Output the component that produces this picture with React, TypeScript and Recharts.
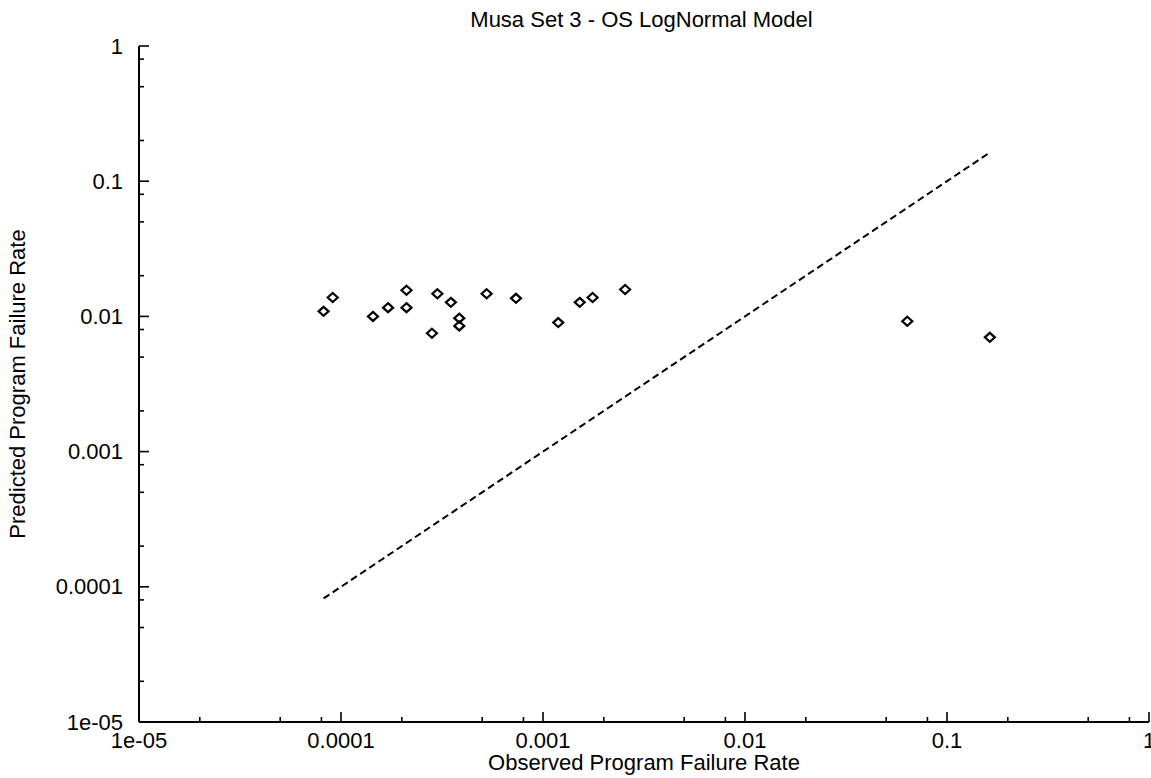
import React from 'react';
import { ScatterChart, Scatter, XAxis, YAxis } from 'recharts';

const observedRates = [
  8.2e-5, 9.1e-5, 1.44e-4, 1.71e-4, 2.11e-4, 2.11e-4, 3.0e-4, 3.5e-4, 2.82e-4,
  3.85e-4, 3.85e-4, 5.26e-4, 7.35e-4, 1.19e-3, 1.52e-3, 1.76e-3, 2.55e-3,
  0.0636, 0.163,
];
const predictedRates = [
  0.0109, 0.0138, 0.01, 0.0116, 0.0156, 0.0116, 0.0147, 0.0127, 0.0075,
  0.0097, 0.0085, 0.0147, 0.0136, 0.009, 0.0127, 0.0138, 0.0158,
  0.0092, 0.007,
];

// dashed y = x reference line
const lineObserved = [8.2e-5, 0.165];
const linePredicted = [8.2e-5, 0.165];

const majorTicks = [1e-5, 1e-4, 1e-3, 0.01, 0.1, 1];
const majorLabels = ['1e-05', '0.0001', '0.001', '0.01', '0.1', '1'];
const minorFactors = [2, 5, 8];

const allTicks: number[] = [];
majorTicks.forEach((t, i) => {
  allTicks.push(t);
  if (i < majorTicks.length - 1) minorFactors.forEach((f) => allTicks.push(t * f));
});

const points = observedRates.map((x, i) => ({ x, y: predictedRates[i] }));
const fitLine = lineObserved.map((x, i) => ({ x, y: linePredicted[i] }));

const FONT = '"Liberation Sans", Arial, Helvetica, sans-serif';
const FS = 22;
const DOMAIN: [number, number] = [1e-5, 1];

const labelOf = (v: number) => {
  const i = majorTicks.findIndex((t) => Math.abs(t - v) / t < 1e-6);
  return i >= 0 ? majorLabels[i] : null;
};

// draws an inward tick mark, and the label for major ticks
const makeTick = (side: 'bottom' | 'top' | 'left' | 'right') => (props: any) => {
  const { x, y, payload } = props;
  const label = labelOf(payload.value);
  const len = label ? 10 : 5;
  if (side === 'bottom' || side === 'top') {
    const dir = side === 'bottom' ? -1 : 1;
    return (
      <g>
        <line x1={x} x2={x} y1={y} y2={y + dir * len} stroke="#000" strokeWidth={1.6} />
        {side === 'bottom' && label && (
          <text x={x} y={y + 18} textAnchor="middle" dominantBaseline="central"
            fontFamily={FONT} fontSize={FS} fill="#000">{label}</text>
        )}
      </g>
    );
  }
  const dir = side === 'left' ? 1 : -1;
  return (
    <g>
      <line x1={x} x2={x + dir * len} y1={y} y2={y} stroke="#000" strokeWidth={1.6} />
      {side === 'left' && label && (
        <text x={x - 16} y={y} textAnchor="end" dominantBaseline="central"
          fontFamily={FONT} fontSize={FS} fill="#000">{label}</text>
      )}
    </g>
  );
};

const Diamond = (props: any) => {
  const { cx, cy } = props;
  return (
    <polygon
      points={`${cx},${cy - 4.5} ${cx + 5},${cy} ${cx},${cy + 4.5} ${cx - 5},${cy}`}
      fill="none" stroke="#000" strokeWidth={2.2}
    />
  );
};

export default function App() {
  return (
    <div style={{ position: 'absolute', left: 0, top: 0, width: 1151, height: 778, background: '#fff' }}>
      <div style={{ position: 'absolute', left: 0, top: 8, width: 1283, textAlign: 'center',
        fontFamily: FONT, fontSize: FS, lineHeight: '24px' }}>
        Musa Set 3 - OS LogNormal Model
      </div>
      <div style={{ position: 'absolute', left: 0, top: 751, width: 1288, textAlign: 'center',
        fontFamily: FONT, fontSize: FS, lineHeight: '24px' }}>
        Observed Program Failure Rate
      </div>
      <div style={{ position: 'absolute', left: 18, top: 384, width: 0, height: 0 }}>
        <div style={{ position: 'absolute', left: -250, top: -12, width: 500, textAlign: 'center',
          transform: 'rotate(-90deg)', fontFamily: FONT, fontSize: FS, lineHeight: '24px', whiteSpace: 'nowrap' }}>
          Predicted Program Failure Rate
        </div>
      </div>
      <ScatterChart width={1151} height={778} margin={{ top: 46, right: 2, bottom: 0, left: 0 }}>
        <XAxis dataKey="x" type="number" scale="log" domain={DOMAIN} allowDataOverflow
          ticks={allTicks} interval={0} height={56} tickSize={0} tickMargin={0}
          tickLine={false} axisLine={{ stroke: '#000', strokeWidth: 2 }} tick={makeTick('bottom')} />
        <XAxis xAxisId="top" orientation="top" dataKey="x" type="number" scale="log" domain={DOMAIN}
          allowDataOverflow ticks={allTicks} interval={0} height={0} tickSize={0} tickMargin={0}
          tickLine={false} axisLine={{ stroke: '#000', strokeWidth: 2 }} tick={makeTick('top')} />
        <YAxis dataKey="y" type="number" scale="log" domain={DOMAIN} allowDataOverflow
          ticks={allTicks} interval={0} width={139} tickSize={0} tickMargin={0}
          tickLine={false} axisLine={{ stroke: '#000', strokeWidth: 2 }} tick={makeTick('left')} />
        <YAxis yAxisId="right" orientation="right" dataKey="y" type="number" scale="log" domain={DOMAIN}
          allowDataOverflow ticks={allTicks} interval={0} width={0} tickSize={0} tickMargin={0}
          tickLine={false} axisLine={{ stroke: '#000', strokeWidth: 2 }} tick={makeTick('right')} />
        <Scatter data={fitLine} isAnimationActive={false} shape={() => <g />}
          line={{ stroke: '#000', strokeWidth: 2, strokeDasharray: '7 4' }} />
        <Scatter data={points} isAnimationActive={false} shape={<Diamond />} />
      </ScatterChart>
    </div>
  );
}
